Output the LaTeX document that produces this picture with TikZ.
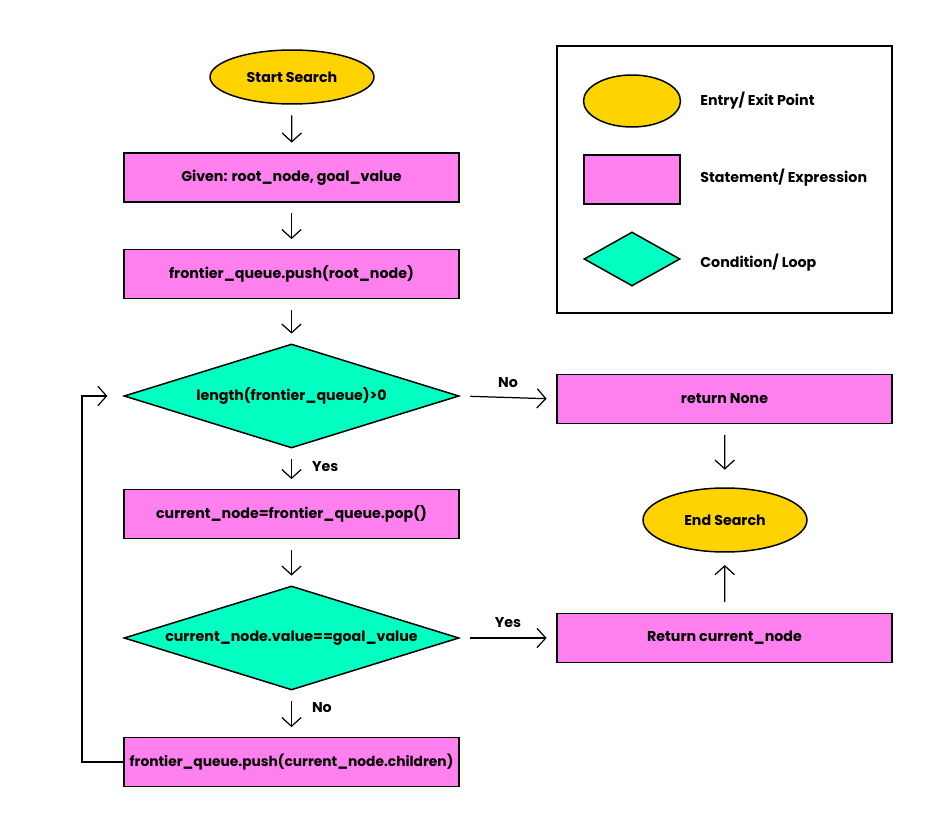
\documentclass[tikz,border=0pt]{standalone}
\usepackage{fontspec}
\setmainfont{Poppins}
\usetikzlibrary{shapes.geometric,arrows.meta}
\definecolor{termyellow}{HTML}{FFD300}
\definecolor{procpink}{HTML}{FF80EE}
\definecolor{condgreen}{HTML}{00FFC0}

\begin{document}
\begin{tikzpicture}[x=0.02cm,y=-0.02cm,
    font=\fontsize{8.1}{9.5}\selectfont\bfseries,
    terminal/.style={ellipse,draw,line width=0.85pt,fill=termyellow,minimum width=3.28cm,minimum height=1.08cm,inner sep=0pt},
    process/.style={rectangle,draw,line width=0.85pt,fill=procpink,minimum width=6.7cm,minimum height=0.98cm,inner sep=0pt},
    decision/.style={diamond,draw,line width=0.85pt,fill=condgreen,aspect=3.22,minimum width=6.7cm,minimum height=2.08cm,inner sep=0pt},
    flow/.style={-{Straight Barb[length=5pt,width=11pt]},line width=0.7pt,shorten <=6pt,shorten >=5.5pt}]
    \useasboundingbox (0,0) rectangle (947,817);
    % 流程节点
    \node[terminal] (start) at (292,77) {Start Search};
    \node[process] (given) at (291.5,177.5) {Given: root\_node, goal\_value};
    \node[process] (push) at (291.5,274) {frontier\_queue.push(root\_node)};
    \node[decision] (notempty) at (291.5,396) {length(frontier\_queue)>0};
    \node[process] (pop) at (291.5,514) {current\_node=frontier\_queue.pop()};
    \node[decision] (isgoal) at (291.5,638) {current\_node.value==goal\_value};
    \node[process,font=\fontsize{7.85}{9.5}\selectfont\bfseries] (children) at (291.5,762) {frontier\_queue.push(current\_node.children)};
    \node[process] (none) at (724.5,399) {return None};
    \node[terminal,minimum height=1.28cm] (finish) at (725,520) {End Search};
    \node[process] (found) at (724.5,638) {Return current\_node};
    % 绘制箭头
    \draw[flow] (start) -- (given);
    \draw[flow] (given) -- (push);
    \draw[flow] (push) -- (notempty);
    \draw[flow] (notempty) -- node[right,xshift=8pt,yshift=1pt] (yes1) {Yes} (pop);
    \draw[flow] (pop) -- (isgoal);
    \draw[flow] (isgoal) -- node[right,xshift=8pt,yshift=3.5pt] (no2) {No} (children);
    \draw[flow] (notempty.east) -- node[above,yshift=2pt] (no1) {No} (none.west);
    \draw[flow] (isgoal.east) -- node[above,yshift=2pt] (yes2) {Yes} (found.west);
    \draw[flow,shorten >=10pt] (none) -- (finish);
    \draw[flow,shorten >=7pt] (found) -- (finish);
    % 循环回路
    \coordinate (loopcorner) at (82,396);
    \draw[flow,shorten <=0pt,shorten >=9pt] (children.west) -| (loopcorner) -- (notempty.west);
    % 图例
    \node[draw,line width=0.85pt,minimum width=6.7cm,minimum height=5.34cm,inner sep=0pt] (legend) at (724.5,179.5) {};
    \node[terminal,minimum width=1.94cm,minimum height=1.04cm] (lgterm) at (632,101) {};
    \node[process,minimum width=1.92cm,minimum height=0.98cm] (lgproc) at (632,179.5) {};
    \node[decision,aspect=1.78,minimum width=1.92cm,minimum height=1.08cm] (lgcond) at (632,259) {};
    \node[anchor=west,inner sep=0pt] (lgtermtext) at (700,101) {Entry/ Exit Point};
    \node[anchor=west,inner sep=0pt] (lgproctext) at (700,178) {Statement/ Expression};
    \node[anchor=west,inner sep=0pt] (lgcondtext) at (700,263) {Condition/ Loop};
\end{tikzpicture}
\end{document}
